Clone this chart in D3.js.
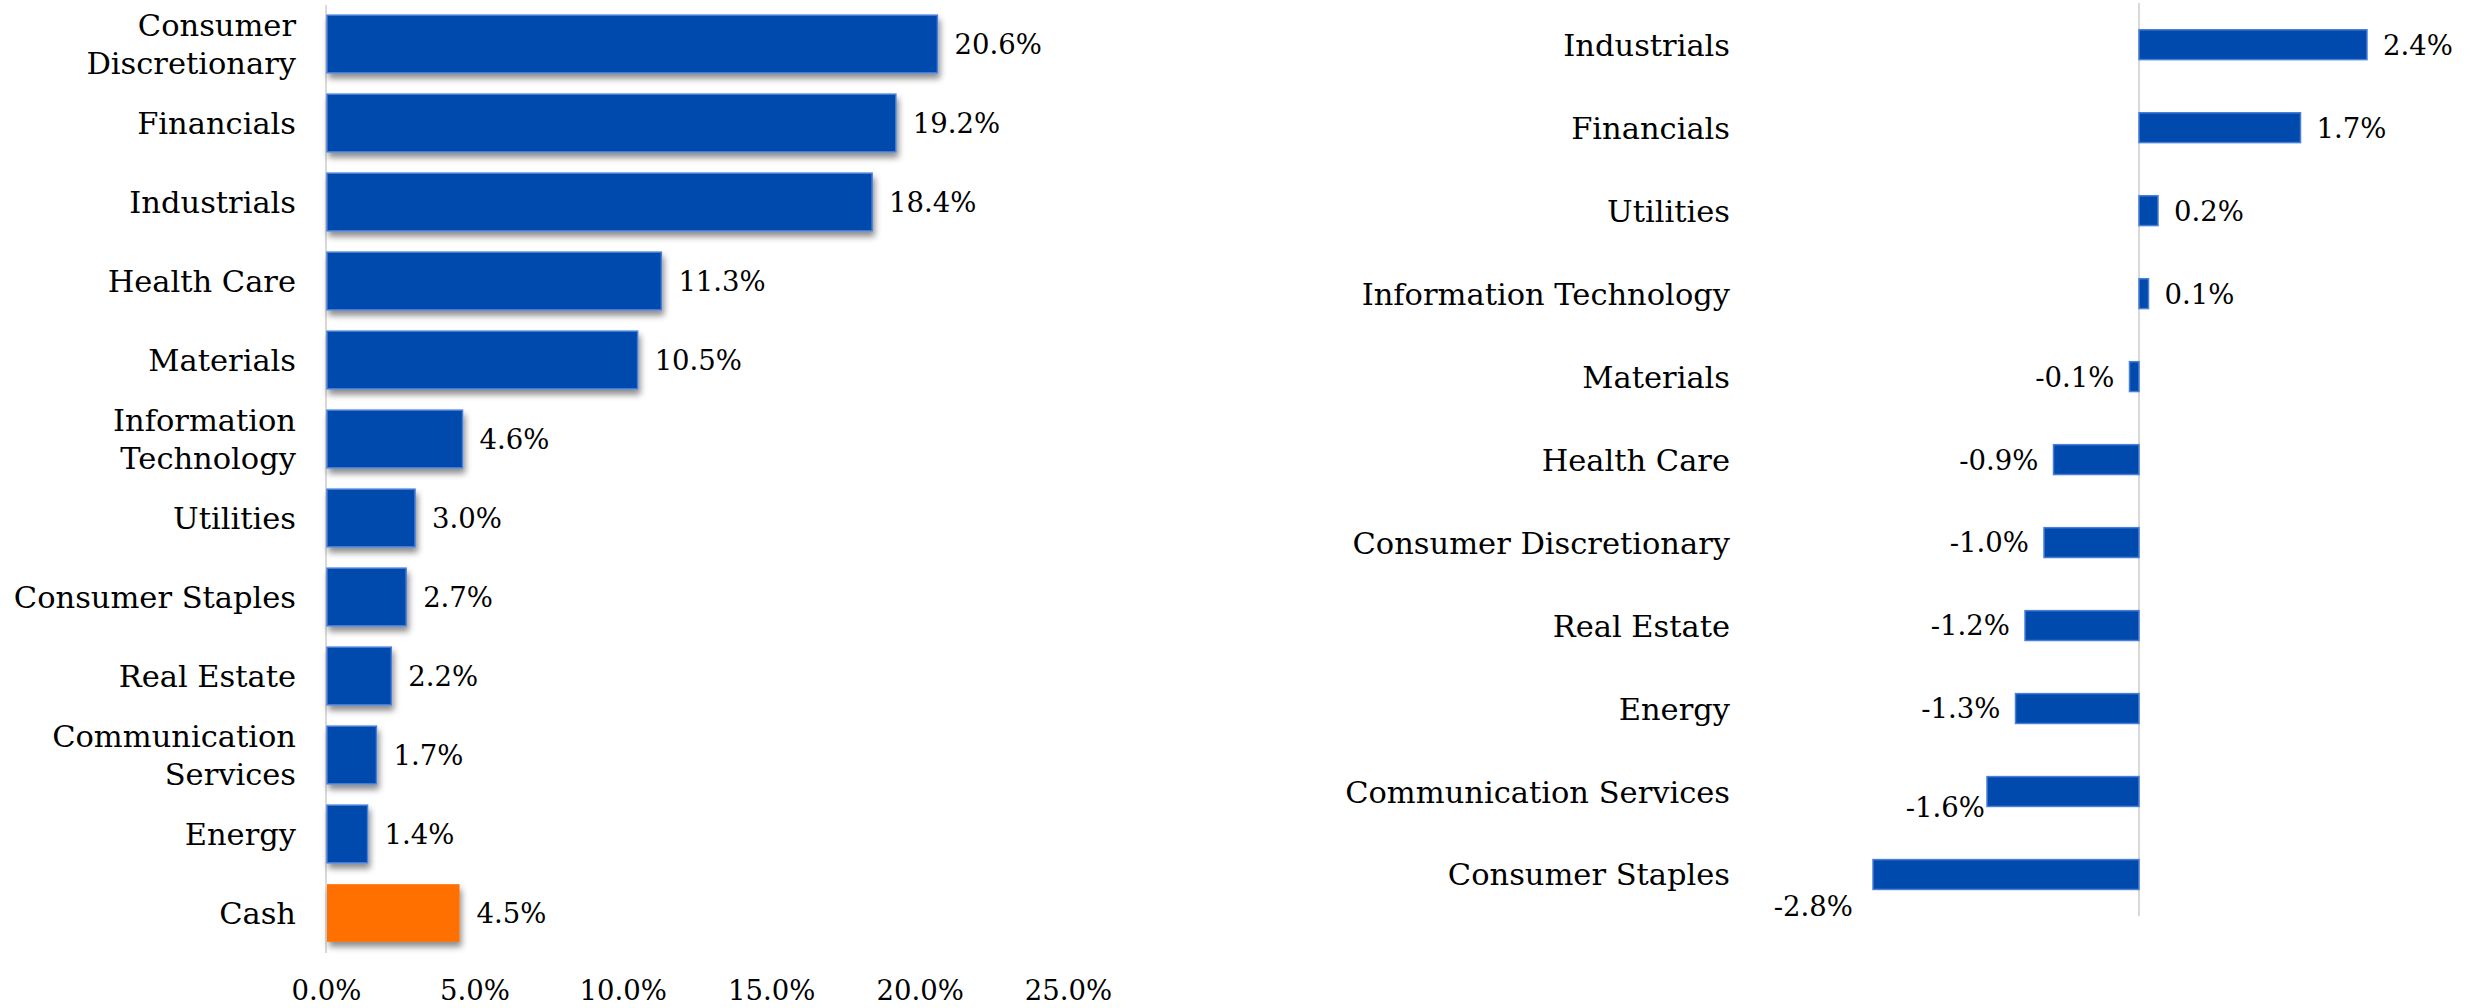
<!DOCTYPE html>
<html><head><meta charset="utf-8">
<script src="https://cdn.jsdelivr.net/npm/d3@7"></script>
<style>
html,body{margin:0;padding:0;background:#fff;}
svg text{font-family:"DejaVu Serif",serif;fill:#000;}
</style></head>
<body>
<svg id="chart" width="2472" height="1008"></svg>
<script>
// ---------- data ----------
const leftCategories = ["Consumer Discretionary","Financials","Industrials","Health Care","Materials","Information Technology","Utilities","Consumer Staples","Real Estate","Communication Services","Energy","Cash"];
const leftLabelLines = [["Consumer","Discretionary"],["Financials"],["Industrials"],["Health Care"],["Materials"],["Information","Technology"],["Utilities"],["Consumer Staples"],["Real Estate"],["Communication","Services"],["Energy"],["Cash"]];
const leftValues = [20.6,19.2,18.4,11.3,10.5,4.6,3.0,2.7,2.2,1.7,1.4,4.5];
const leftTicks = [0,5,10,15,20,25];

const rightCategories = ["Industrials","Financials","Utilities","Information Technology","Materials","Health Care","Consumer Discretionary","Real Estate","Energy","Communication Services","Consumer Staples"];
const rightValues = [2.4,1.7,0.2,0.1,-0.1,-0.9,-1.0,-1.2,-1.3,-1.6,-2.8];

// ---------- style ----------
const FS_CAT = 30.5, FS_NUM = 27.5;
const BLUE = "#004AAD", BLUE_EDGE = "#4A7FD8", ORANGE = "#FF7000", AXIS = "#D9D9D9";
const rightLabelNudge = {"Communication Services":{dx:13, dy:16}, "Consumer Staples":{dx:-5, dy:32}};

const svg = d3.select("#chart");
const fmt = v => v.toFixed(1) + "%";

const defs = svg.append("defs");
const f = defs.append("filter").attr("id","shadow").attr("x","-10%").attr("y","-20%").attr("width","130%").attr("height","160%");
f.append("feDropShadow").attr("dx",2).attr("dy",5).attr("stdDeviation",3).attr("flood-color","#000").attr("flood-opacity",0.45);

// ---------- left chart ----------
const lx = d3.scaleLinear().domain([0,25]).range([326,1068]);
const ly = d3.scaleBand().domain(leftCategories).range([4.5,952.5]).paddingInner(0.27).paddingOuter(0.135);

const L = svg.append("g");
L.append("line").attr("x1",lx(0)).attr("x2",lx(0)).attr("y1",5).attr("y2",953)
  .attr("stroke",AXIS).attr("stroke-width",2);

L.selectAll("rect.bar").data(leftCategories).join("rect").attr("class","bar")
  .attr("x",lx(0)+1).attr("y",d=>ly(d))
  .attr("width",(d,i)=>lx(leftValues[i])-lx(0)-1).attr("height",ly.bandwidth())
  .attr("fill",d=>d==="Cash"?ORANGE:BLUE)
  .attr("stroke",d=>d==="Cash"?"none":BLUE_EDGE).attr("stroke-width",1.5)
  .attr("filter","url(#shadow)");

const lineH = 38;
L.selectAll("text.cat").data(leftCategories).join("text").attr("class","cat")
  .attr("text-anchor","end").attr("font-size",FS_CAT)
  .each(function(d,i){
    const lines = leftLabelLines[i];
    const cy = ly(d)+ly.bandwidth()/2;
    const t = d3.select(this);
    lines.forEach((ln,k)=>{
      const off = (k-(lines.length-1)/2)*lineH;
      t.append("tspan").attr("x",296).attr("y",cy+off).attr("dy","0.36em").text(ln);
    });
  });

L.selectAll("text.val").data(leftCategories).join("text").attr("class","val")
  .attr("x",(d,i)=>lx(leftValues[i])+17).attr("y",d=>ly(d)+ly.bandwidth()/2)
  .attr("dy","0.36em").attr("font-size",FS_NUM).text((d,i)=>fmt(leftValues[i]));

const ax = d3.axisBottom(lx).tickValues(leftTicks).tickFormat(v=>v.toFixed(1)+"%").tickSize(0).tickPadding(0);
const axG = L.append("g").attr("transform","translate(0,980)").call(ax);
axG.select(".domain").remove();
axG.selectAll("text").attr("font-size",FS_NUM).attr("font-family","DejaVu Serif").attr("fill","#000").attr("dy","0.71em");

// ---------- right chart ----------
const rx = d3.scaleLinear().domain([-3,3]).range([2139-285,2139+285]);
const ry = d3.scaleBand().domain(rightCategories).range([3.2,916]).paddingInner(0.64).paddingOuter(0.32);

const R = svg.append("g");
R.append("line").attr("x1",rx(0)).attr("x2",rx(0)).attr("y1",3).attr("y2",916)
  .attr("stroke",AXIS).attr("stroke-width",2);

R.selectAll("rect.bar").data(rightCategories).join("rect").attr("class","bar")
  .attr("x",(d,i)=>Math.min(rx(0),rx(rightValues[i])))
  .attr("y",d=>ry(d))
  .attr("width",(d,i)=>Math.abs(rx(rightValues[i])-rx(0)))
  .attr("height",ry.bandwidth())
  .attr("fill",BLUE).attr("stroke",BLUE_EDGE).attr("stroke-width",1.5);

R.selectAll("text.cat").data(rightCategories).join("text").attr("class","cat")
  .attr("x",1730).attr("y",d=>ry(d)+ry.bandwidth()/2).attr("dy","0.36em")
  .attr("text-anchor","end").attr("font-size",FS_CAT).text(d=>d);

R.selectAll("text.val").data(rightCategories).join("text").attr("class","val")
  .attr("x",(d,i)=>{
    const v = rightValues[i], n = rightLabelNudge[d]||{dx:0};
    return (v>=0 ? rx(v)+16 : rx(v)-15) + n.dx;
  })
  .attr("y",d=>ry(d)+ry.bandwidth()/2+((rightLabelNudge[d]||{}).dy||0))
  .attr("dy","0.36em").attr("font-size",FS_NUM)
  .attr("text-anchor",(d,i)=>rightValues[i]>=0?"start":"end")
  .text((d,i)=>fmt(rightValues[i]));
</script>
</body></html>
